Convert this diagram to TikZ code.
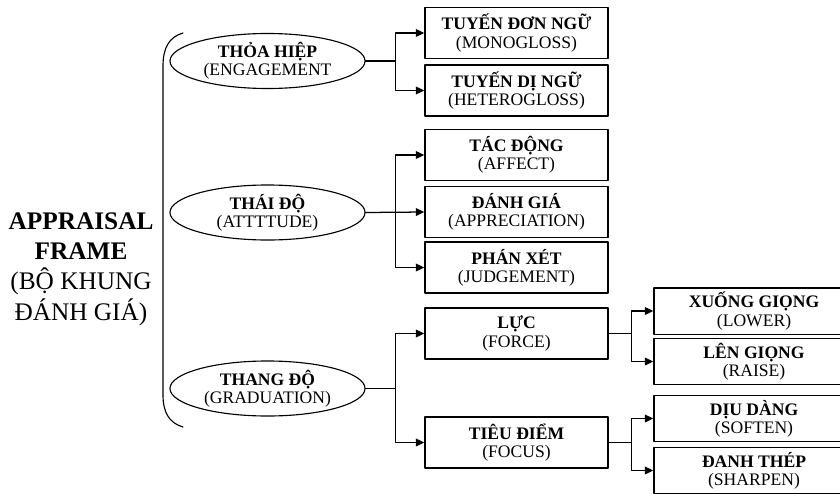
\documentclass[tikz,border=0pt]{standalone}
\usepackage{fontspec}
\setmainfont{Liberation Serif}
\usetikzlibrary{arrows.meta, shapes.geometric}

\begin{document}
\begin{tikzpicture}[x=0.025cm, y=-0.025cm, >={Triangle[length=6pt, width=5.5pt]},
  line cap=round, line join=round,
  boxtxt/.style={font=\fontsize{12.5}{13}\selectfont, align=center, inner sep=0pt},
  catbox/.style={boxtxt, draw, line width=1pt, minimum width=4.575cm, minimum height=1.275cm},
  subbox/.style={boxtxt, draw, line width=1pt, minimum width=5cm, minimum height=1.16cm},
  sysell/.style={boxtxt, ellipse, draw, line width=0.8pt, minimum width=4.875cm, minimum height=1.375cm},
  link/.style={->, line width=0.9pt}]

  %% ---- frame (px units, y down) ----
  \path[use as bounding box, clip] (0,0) rectangle (840,493);

  %% ---- title ----
  \node[align=center, inner sep=0pt, font=\fontsize{18}{21.5}\selectfont] (frame) at (81,269)
    {\textbf{APPRAISAL}\\\textbf{FRAME}\\(BỘ KHUNG\\ĐÁNH GIÁ)};

  %% ---- brace ----
  \draw[line width=0.8pt]
    (183,33) .. controls (169,37) and (163,48) .. (163,66) -- (163,395)
    .. controls (163,412) and (169,423) .. (183,427);

  %% ---- systems ----
  \node[sysell] (eng) at (267.5,61)    {\textbf{THỎA HIỆP}\\(ENGAGEMENT};
  \node[sysell] (att) at (267.5,212.5) {\textbf{THÁI ĐỘ}\\(ATTTTUDE)};
  \node[sysell] (grad) at (267.5,388.5) {\textbf{THANG ĐỘ}\\(GRADUATION)};

  %% ---- categories ----
  \node[catbox] (mono)   at (516.5,33)  {\textbf{TUYẾN ĐƠN NGỮ}\\(MONOGLOSS)};
  \node[catbox] (hetero) at (516.5,90.5) {\textbf{TUYẾN DỊ NGỮ}\\(HETEROGLOSS)};
  \node[catbox] (affect) at (516.5,155) {\textbf{TÁC ĐỘNG}\\(AFFECT)};
  \node[catbox] (apprec) at (516.5,212) {\textbf{ĐÁNH GIÁ}\\(APPRECIATION)};
  \node[catbox] (judge)  at (516.5,267.5) {\textbf{PHÁN XÉT}\\(JUDGEMENT)};
  \node[catbox] (force)  at (516.5,333.5) {\textbf{LỰC}\\(FORCE)};
  \node[catbox] (focus)  at (516.5,442.5) {\textbf{TIÊU ĐIỂM}\\(FOCUS)};

  %% ---- sub-categories ----
  \node[subbox] (lower)   at (754,311)   {\textbf{XUỐNG GIỌNG}\\(LOWER)};
  \node[subbox] (raise)   at (754,361.5) {\textbf{LÊN GIỌNG}\\(RAISE)};
  \node[subbox] (soften)  at (754,418.5) {\textbf{DỊU DÀNG}\\(SOFTEN)};
  \node[subbox] (sharpen) at (754,470.5) {\textbf{ĐANH THÉP}\\(SHARPEN)};

  %% ---- links: systems -> categories ----
  \draw[link] (eng.east) -- ++(30,0) |- (mono.west);
  \draw[link] (eng.east) -- ++(30,0) |- (hetero.west);
  \draw[link] (att.east) -- ++(30,0) |- (affect.west);
  \draw[link] (att.east) -- (apprec.west);
  \draw[link] (att.east) -- ++(30,0) |- (judge.west);
  \draw[link] (grad.east) -- ++(30,0) |- (force.west);
  \draw[link] (grad.east) -- ++(30,0) |- (focus.west);

  %% ---- links: categories -> sub-categories ----
  \draw[link] (force.east) -- ++(23,0) |- (lower.west);
  \draw[link] (force.east) -- ++(23,0) |- (raise.west);
  \draw[link] (focus.east) -- ++(23,0) |- (soften.west);
  \draw[link] (focus.east) -- ++(23,0) |- (sharpen.west);

\end{tikzpicture}
\end{document}
